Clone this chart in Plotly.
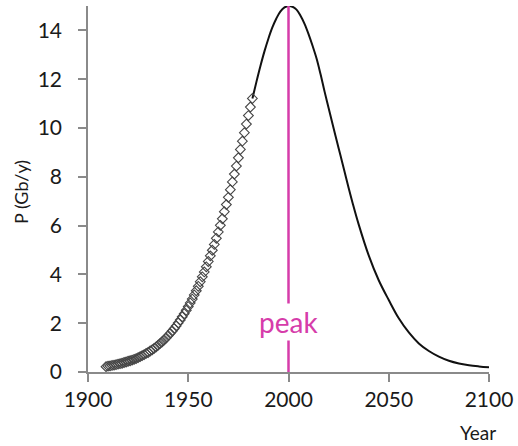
import plotly.graph_objects as go

# Observed production (open diamonds), one per year
marker_years = list(range(1909, 1983))
marker_values = [
    0.22, 0.24, 0.25, 0.27, 0.28, 0.30, 0.32, 0.34, 0.36, 0.39,
    0.41, 0.44, 0.46, 0.49, 0.52, 0.55, 0.59, 0.63, 0.67, 0.71,
    0.76, 0.80, 0.86, 0.91, 0.97, 1.03, 1.10, 1.17, 1.24, 1.32,
    1.40, 1.49, 1.58, 1.68, 1.78, 1.89, 2.01, 2.13, 2.26, 2.39,
    2.53, 2.68, 2.83, 2.99, 3.16, 3.33, 3.51, 3.70, 3.90, 4.10,
    4.31, 4.53, 4.76, 4.99, 5.23, 5.48, 5.74, 6.01, 6.28, 6.57,
    6.86, 7.16, 7.47, 7.79, 8.11, 8.44, 8.78, 9.12, 9.46, 9.81,
    10.16, 10.51, 10.86, 11.21,
]

# Projected curve (solid line)
curve_years = [1982, 1984, 1986, 1988, 1990, 1992, 1994, 1996, 1998, 2000,
               2002, 2004, 2006, 2008, 2010, 2012, 2014, 2016, 2018, 2020,
               2022, 2024, 2026, 2028, 2030, 2032, 2035, 2040, 2045, 2050,
               2055, 2060, 2065, 2070, 2075, 2080, 2085, 2090, 2095, 2100]
curve_values = [11.21, 11.89, 12.54, 13.14, 13.67, 14.13, 14.50, 14.78, 14.94, 15.0,
                14.97, 14.85, 14.60, 14.27, 13.85, 13.37, 12.85, 12.20, 11.49, 10.82,
                10.15, 9.50, 8.85, 8.20, 7.54, 6.92, 6.05, 4.78, 3.76, 2.95,
                2.20, 1.62, 1.17, 0.86, 0.63, 0.46, 0.35, 0.28, 0.23, 0.19]

peak_year = 2000
peak_value = 15
x_ticks = [1900, 1950, 2000, 2050, 2100]
y_ticks = [0, 2, 4, 6, 8, 10, 12, 14]

FONT = "Lato"
AXIS_COLOR = "#8a8a8a"
MAGENTA = "#D63CAA"

# plot area in pixels
L, R, T, B = 88, 29, 6, 74
W, H = 518, 446
PH = H - T - B

fig = go.Figure()

fig.add_trace(go.Scatter(
    x=curve_years, y=curve_values, mode="lines",
    line=dict(color="#111111", width=2, shape="spline", smoothing=1.0),
    showlegend=False, hoverinfo="skip",
))

fig.add_trace(go.Scatter(
    x=marker_years, y=marker_values, mode="markers",
    marker=dict(symbol="diamond-open", size=7.5, color="#454545",
                line=dict(width=1.1, color="#454545")),
    showlegend=False,
))

fig.add_shape(type="line", x0=peak_year, x1=peak_year, y0=0, y1=peak_value,
              xref="x", yref="y", line=dict(color=MAGENTA, width=2.5))

fig.add_annotation(x=peak_year, y=2.05, xref="x", yref="y", text="peak",
                   showarrow=False, font=dict(family=FONT, size=28, color=MAGENTA),
                   bgcolor="white", borderpad=1, xanchor="center", yanchor="middle")

fig.add_annotation(x=(497 - L) / (W - L - R), y=-(432 - (H - B)) / PH,
                   xref="paper", yref="paper", text="Year",
                   showarrow=False, font=dict(family=FONT, size=19, color="#1a1a1a"),
                   xanchor="right", yanchor="middle", borderpad=0)

fig.add_annotation(text="P (Gb/y)", textangle=-90, showarrow=False,
                   font=dict(family=FONT, size=18, color="#1a1a1a"),
                   xref="paper", yref="paper", x=(21 - L) / (W - L - R),
                   y=((H - B) - 192) / PH, xanchor="center", yanchor="middle")

fig.update_layout(
    width=W, height=H,
    margin=dict(l=L, r=R, t=T, b=B, autoexpand=False),
    paper_bgcolor="white", plot_bgcolor="white",
    font=dict(family=FONT, size=21, color="#1a1a1a"),
    xaxis=dict(range=[1900, 2100], tickvals=x_ticks, showgrid=False, zeroline=False,
               showline=True, linecolor=AXIS_COLOR, linewidth=1.5,
               ticks="outside", ticklen=8, tickwidth=1.5, tickcolor=AXIS_COLOR),
    yaxis=dict(range=[0, 15], tickvals=y_ticks, showgrid=False, zeroline=False,
               showline=True, linecolor=AXIS_COLOR, linewidth=1.5,
               ticks="outside", ticklen=8, tickwidth=1.5, tickcolor=AXIS_COLOR,
               ticklabelstandoff=12),
)

fig.write_html("out.html")
